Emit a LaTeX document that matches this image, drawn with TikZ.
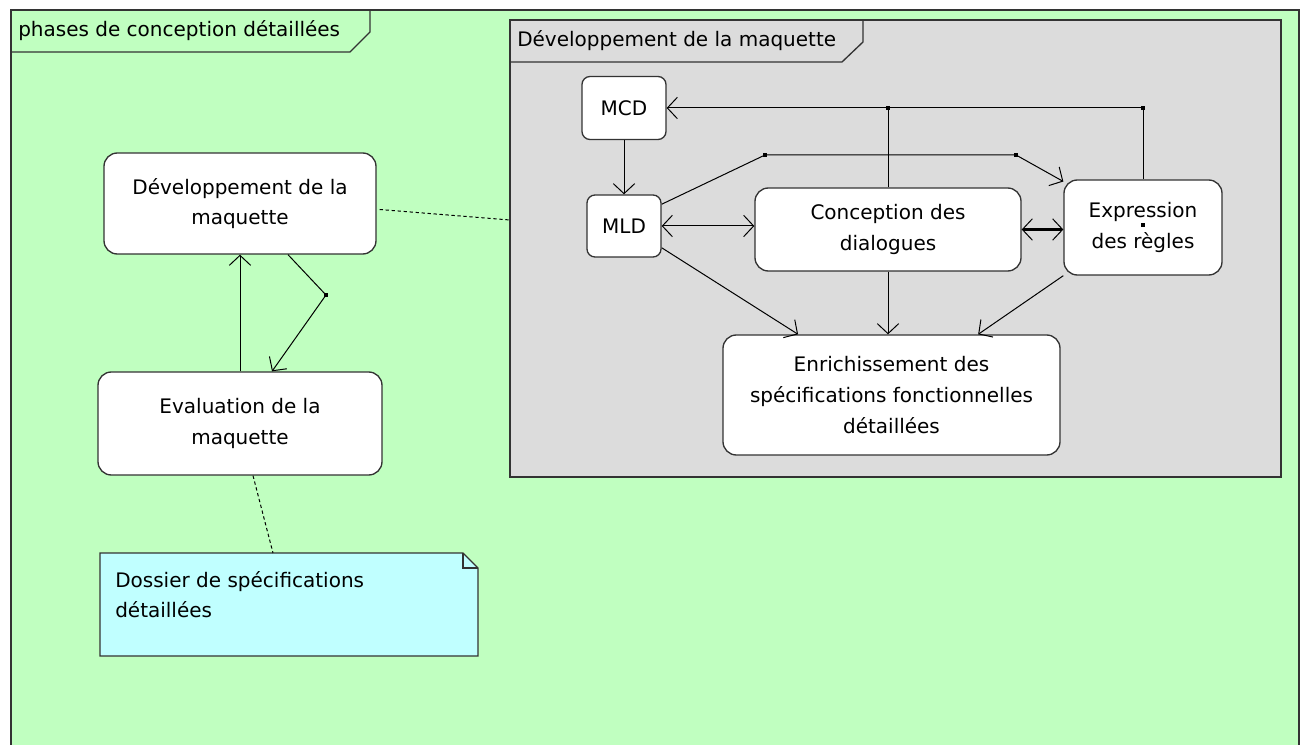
\documentclass[tikz,border=0pt]{standalone}
\usepackage{fontspec}
\setmainfont{DejaVu Sans}
\usetikzlibrary{positioning,calc,arrows.meta}
\usepackage{xcolor}
\definecolor{phasegreen}{HTML}{C0FFC0}
\definecolor{maqgray}{HTML}{DCDCDC}
\definecolor{notecyan}{HTML}{C0FFFF}
\definecolor{edgegray}{HTML}{333333}

\begin{document}
\begin{tikzpicture}[
      x=0.75pt, y=-0.75pt,
      font=\fontsize{15}{23}\selectfont,
      action/.style={rectangle, draw=edgegray, fill=white, rounded corners=10pt, align=center, inner sep=0pt, line width=1pt}, % activity boxes
      smallaction/.style={action, rounded corners=6pt},
      frame/.style={draw=edgegray, line width=1pt},
      link/.style={line width=0.75pt},
      arr/.style={link, -{Straight Barb[length=7.5pt,width=16pt,line width=0.75pt]}},
      darr/.style={link, {Straight Barb[length=7.5pt,width=16pt,line width=0.75pt]}-{Straight Barb[length=7.5pt,width=16pt,line width=0.75pt]}},
      dots/.style={link, dash pattern=on 2.5pt off 2pt},
      jdot/.style={rectangle, fill=black, inner sep=0pt, minimum size=3.5pt}
  ]
      \useasboundingbox (0,0) rectangle (1304,745);
      \clip (0,0) rectangle (1304,745);

      % Outer frame
      \fill[phasegreen] (11,10) rectangle (1299,760);
      \draw[frame] (11,760) -- (11,10) -- (1299,10) -- (1299,760);
      \draw[frame] (11,52) -- (350,52) -- (370,32) -- (370,10);
      \node (phasetab) [anchor=west, inner sep=0pt] at (18,31) {phases de conception détaillées};

      % Inner frame
      \filldraw[frame, fill=maqgray] (510,20) rectangle (1281,477);
      \draw[frame] (510,62) -- (842,62) -- (863,42) -- (863,20);
      \node (maqtab) [anchor=west, inner sep=0pt] at (517,41) {Développement de la maquette};
      \coordinate (maqframe) at (510,220);

      % Note
      \filldraw[frame, fill=notecyan] (100,553) -- (463,553) -- (478,568) -- (478,656) -- (100,656) -- cycle;
      \draw[frame] (463,553) -- (463,568) -- (478,568);
      \node (note) [anchor=north west, inner sep=0pt, align=left] at (115,571) {Dossier de spécifications\\détaillées};
      \coordinate (notetop) at (273,553);

      % Nodes - left column
      \node (dev) [action, minimum width=204pt, minimum height=75.75pt] at (240,203.5) {Développement de la\\maquette};
      \node (eval) [action, minimum width=213pt, minimum height=77.25pt] at (240,423.5) {Evaluation de la\\maquette};

      % Nodes - inside the frame
      \node (mcd) [smallaction, minimum width=63pt, minimum height=47.25pt] at (624,108) {MCD};
      \node (mld) [smallaction, minimum width=55.5pt, minimum height=46.5pt] at (624,226) {MLD};
      \node (conc) [action, minimum width=199.5pt, minimum height=62.25pt] at (888,229.5) {Conception des\\dialogues};
      \node (expr) [action, minimum width=118.5pt, minimum height=71.25pt] at (1143,227.5) {Expression\\des règles};
      \node (enr) [action, minimum width=252.75pt, minimum height=90pt] at (891.5,395) {Enrichissement des\\spécifications fonctionnelles\\détaillées};

      % Junction points
      \node (jmcd) [jdot] at (888,108) {};
      \node (jexpr) [jdot] at (1143,108) {};
      \node (jup) [jdot] at (765,155) {};
      \node (jright) [jdot] at (1016,155) {};
      \node (jeval) [jdot] at (326,295) {};
      \node (exprdot) [jdot, minimum size=3pt] at (1143,225) {};

      % Connections
      \draw[arr] (mcd) -- (mld);
      \draw[arr] (conc.north) -- (jmcd.center) -- (mcd.east);
      \draw[link] (expr.north) -- (jexpr.center) -- (jmcd.center);
      \draw[arr] (mld.30) -- (jup.center) -- (jright.center) -- (expr.150);
      \draw[darr] (mld.east) -- (mld.east -| conc.west);
      \draw[darr, line width=1.6pt] (conc.east) -- (conc.east -| expr.west);
      \draw[arr] (mld.-30) -- (enr.147.6);
      \draw[arr] (conc.south) -- (conc.south |- enr.north);
      \draw[arr] (expr.south west) -- (enr.35.4);

      \draw[arr] (eval.north) -- (dev.south);
      \draw[arr] ($(dev.south)+(48,0)$) -- (jeval.center) -- ($(eval.north)+(32,0)$);
      \draw[dots] ($(dev.east)+(3,6)$) -- (maqframe);
      \draw[dots] ($(eval.south)+(13,0)$) -- (notetop);
  \end{tikzpicture}
\end{document}
